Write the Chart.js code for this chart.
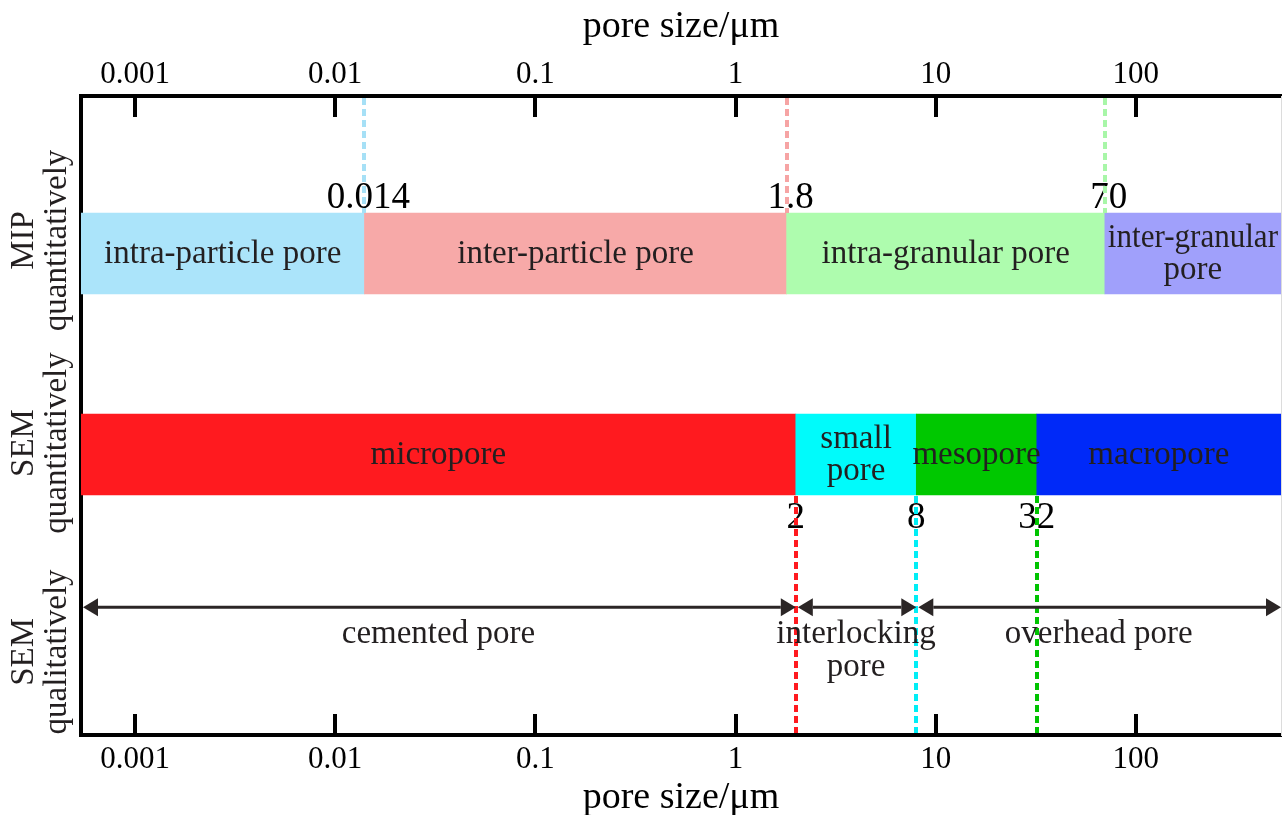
<!DOCTYPE html>
<html>
<head>
<meta charset="utf-8">
<script src="https://cdn.jsdelivr.net/npm/chart.js@4/dist/chart.umd.min.js"></script>
<style>
  html, body { margin: 0; padding: 0; background: #ffffff; }
  #wrap { width: 1282px; height: 815px; }
</style>
</head>
<body>
<div id="wrap"><canvas id="chart" width="1282" height="815"></canvas></div>
<script>
// Pore size range covered by the classification (μm)
const X_MIN = 0.000537;
const X_MAX = 531;

// Axis ticks
const tickValues = [0.001, 0.01, 0.1, 1, 10, 100];
const tickLabels = ['0.001', '0.01', '0.1', '1', '10', '100'];

// MIP (quantitative) classes and their boundaries
const mipBounds = [0.014, 1.8, 70];
const mipBoundLabels = ['0.014', '1.8', '70'];
const mipNames = [['intra-particle pore'], ['inter-particle pore'], ['intra-granular pore'], ['inter-granular', 'pore']];

// SEM (quantitative) classes and their boundaries
const semBounds = [2, 8, 32];
const semBoundLabels = ['2', '8', '32'];
const semNames = [['micropore'], ['small', 'pore'], ['mesopore'], ['macropore']];

// SEM (qualitative) classes and their boundaries
const qualBounds = [2, 8];
const qualNames = [['cemented pore'], ['interlocking', 'pore'], ['overhead pore']];

// Row titles on the left
const rowNames = [['MIP', 'quantitatively'], ['SEM', 'quantitatively'], ['SEM', 'qualitatively']];

// ---- presentation ----
const FONT = '"Liberation Serif", "Times New Roman", serif';
const mipColors = ['#abe4fa', '#f7a9a8', '#aefcae', '#a0a0fb'];
const mipLineColors = ['#a6e0f6', '#f6a4a4', '#a8f6a8'];
const semColors = ['#ff1a1f', '#00fbfb', '#00c800', '#0029f8'];
const semLineColors = ['#ff1a1f', '#00eef6', '#00c400'];
const TEXT_COLOR = '#231f20';
const ARROW_COLOR = '#2b2626';

// vertical layout on a hidden 0..100 (top-down) scale
const ROW = {
  mipBar: 24.65, mipNum: 16.0,
  semBar: 56.1, semNum: 66.1,
  qual: 80.0,
  titles: [22.6, 54.3, 87.0]
};
const BAR_THICKNESS = 81;

function segments(bounds) {
  const edges = [X_MIN, ...bounds, X_MAX];
  const out = [];
  for (let i = 0; i < edges.length - 1; i++) out.push([edges[i], edges[i + 1]]);
  return out;
}

const mipData = segments(mipBounds).map(s => ({ x: s, y: ROW.mipBar }));
const semData = segments(semBounds).map(s => ({ x: s, y: ROW.semBar }));

// centred multi-line text, kept inside the plot's right edge
function drawLines(ctx, lines, x, y, lh, rightLimit) {
  const y0 = y - (lines.length - 1) * lh / 2;
  const maxW = Math.max(20, 2 * (rightLimit - x) - 6);
  lines.forEach((t, i) => ctx.fillText(t, x, y0 + i * lh, maxW));
}

const decorPlugin = {
  id: 'poreDecor',
  afterDatasetsDraw(chart) {
    const ctx = chart.ctx;
    const xs = chart.scales.x;
    const ys = chart.scales.y;
    const area = chart.chartArea;
    ctx.save();

    // class names inside the bars
    ctx.fillStyle = TEXT_COLOR;
    ctx.font = '33px ' + FONT;
    ctx.textAlign = 'center';
    ctx.textBaseline = 'middle';
    [[0, mipNames], [1, semNames]].forEach(([di, names]) => {
      chart.getDatasetMeta(di).data.forEach((bar, i) => {
        const cx = (bar.x + bar.base) / 2;
        drawLines(ctx, names[i], cx, bar.y + 1, 32, area.right);
      });
    });

    // boundary values
    ctx.fillStyle = '#000';
    ctx.font = '37px ' + FONT;
    mipBounds.forEach((v, i) => ctx.fillText(mipBoundLabels[i], xs.getPixelForValue(v) + 4, ys.getPixelForValue(ROW.mipNum)));
    semBounds.forEach((v, i) => ctx.fillText(semBoundLabels[i], xs.getPixelForValue(v), ys.getPixelForValue(ROW.semNum)));

    // dashed boundary lines
    ctx.lineWidth = 4;
    ctx.setLineDash([7, 4]);
    const mipTop = ys.getPixelForValue(ROW.mipBar) - BAR_THICKNESS / 2;
    mipBounds.forEach((v, i) => {
      const px = Math.round(xs.getPixelForValue(v));
      ctx.strokeStyle = mipLineColors[i];
      ctx.beginPath(); ctx.moveTo(px, area.top + 2); ctx.lineTo(px, mipTop); ctx.stroke();
    });
    const semBottom = ys.getPixelForValue(ROW.semBar) + BAR_THICKNESS / 2;
    semBounds.forEach((v, i) => {
      const px = Math.round(xs.getPixelForValue(v));
      ctx.strokeStyle = semLineColors[i];
      ctx.beginPath(); ctx.moveTo(px, semBottom + 1); ctx.lineTo(px, area.bottom - 2); ctx.stroke();
    });
    ctx.setLineDash([]);

    // double-headed arrows for the qualitative classes
    const ay = ys.getPixelForValue(ROW.qual);
    const edges = [X_MIN, ...qualBounds, X_MAX];
    const head = 15, half = 9;
    ctx.strokeStyle = ARROW_COLOR;
    ctx.fillStyle = ARROW_COLOR;
    ctx.lineWidth = 3;
    for (let i = 0; i < edges.length - 1; i++) {
      const a = xs.getPixelForValue(edges[i]) + 2;
      const b = xs.getPixelForValue(edges[i + 1]);
      ctx.beginPath(); ctx.moveTo(a + head, ay); ctx.lineTo(b - head, ay); ctx.stroke();
      ctx.beginPath(); ctx.moveTo(a, ay); ctx.lineTo(a + head, ay - half); ctx.lineTo(a + head, ay + half); ctx.closePath(); ctx.fill();
      ctx.beginPath(); ctx.moveTo(b, ay); ctx.lineTo(b - head, ay - half); ctx.lineTo(b - head, ay + half); ctx.closePath(); ctx.fill();
    }
    ctx.fillStyle = TEXT_COLOR;
    ctx.font = '33px ' + FONT;
    ctx.textBaseline = 'middle';
    for (let i = 0; i < edges.length - 1; i++) {
      const cx = (xs.getPixelForValue(edges[i]) + xs.getPixelForValue(edges[i + 1])) / 2;
      qualNames[i].forEach((t, k) => ctx.fillText(t, cx, ay + 27 + k * 33));
    }

    // inward tick marks on top and bottom
    ctx.strokeStyle = '#000';
    ctx.lineWidth = 4;
    tickValues.forEach(v => {
      const px = Math.round(xs.getPixelForValue(v));
      ctx.beginPath(); ctx.moveTo(px, area.top); ctx.lineTo(px, area.top + 21); ctx.stroke();
      ctx.beginPath(); ctx.moveTo(px, area.bottom); ctx.lineTo(px, area.bottom - 21); ctx.stroke();
    });

    // row titles, rotated
    ctx.fillStyle = TEXT_COLOR;
    ctx.font = '33px ' + FONT;
    rowNames.forEach((lines, i) => {
      const cy = ys.getPixelForValue(ROW.titles[i]);
      ctx.save();
      ctx.translate(0, cy);
      ctx.rotate(-Math.PI / 2);
      ctx.textAlign = 'center';
      ctx.textBaseline = 'middle';
      ctx.fillText(lines[0], 0, 24);
      ctx.fillText(lines[1], 0, 57);
      ctx.restore();
    });

    ctx.restore();
  }
};

function xAxis(position, height, tickPad, titlePad) {
  return {
    type: 'logarithmic',
    position: position,
    min: X_MIN,
    max: X_MAX,
    afterBuildTicks: s => { s.ticks = tickValues.map(v => ({ value: v, major: true })); },
    afterFit: s => { s.height = height; },
    grid: { display: false, drawTicks: false },
    border: { display: true, color: '#000', width: 4 },
    ticks: {
      autoSkip: false,
      maxRotation: 0,
      color: '#000',
      padding: tickPad,
      font: { family: FONT, size: 31 },
      callback: v => { const k = tickValues.indexOf(v); return k >= 0 ? tickLabels[k] : ''; }
    },
    title: {
      display: true,
      text: 'pore size/μm',
      color: '#000',
      font: { family: FONT, size: 38, lineHeight: 1 },
      padding: titlePad
    }
  };
}

new Chart(document.getElementById('chart'), {
  type: 'bar',
  data: {
    datasets: [
      { label: 'MIP', data: mipData, backgroundColor: mipColors, borderWidth: 0, barThickness: BAR_THICKNESS, grouped: false },
      { label: 'SEM', data: semData, backgroundColor: semColors, borderWidth: 0, barThickness: BAR_THICKNESS, grouped: false }
    ]
  },
  options: {
    indexAxis: 'y',
    responsive: false,
    animation: false,
    devicePixelRatio: 1,
    layout: { padding: 0 },
    plugins: { legend: { display: false }, tooltip: { enabled: false } },
    scales: {
      x: xAxis('bottom', 80, 6, { top: 0, bottom: -2 }),
      xTop: xAxis('top', 96, 3, { top: 8, bottom: 0 }),
      y: {
        type: 'linear',
        min: 0, max: 100, reverse: true, offset: false,
        position: 'left',
        afterFit: s => { s.width = 81; },
        grid: { display: false, drawTicks: false },
        ticks: { display: false },
        border: { display: true, color: '#000', width: 4 }
      },
      yRight: {
        type: 'linear',
        min: 0, max: 100, offset: false,
        position: 'right',
        afterFit: s => { s.width = 1; },
        grid: { display: false, drawTicks: false },
        ticks: { display: false },
        border: { display: true, color: '#dcdcdc', width: 1 }
      }
    }
  },
  plugins: [decorPlugin]
});
</script>
</body>
</html>
